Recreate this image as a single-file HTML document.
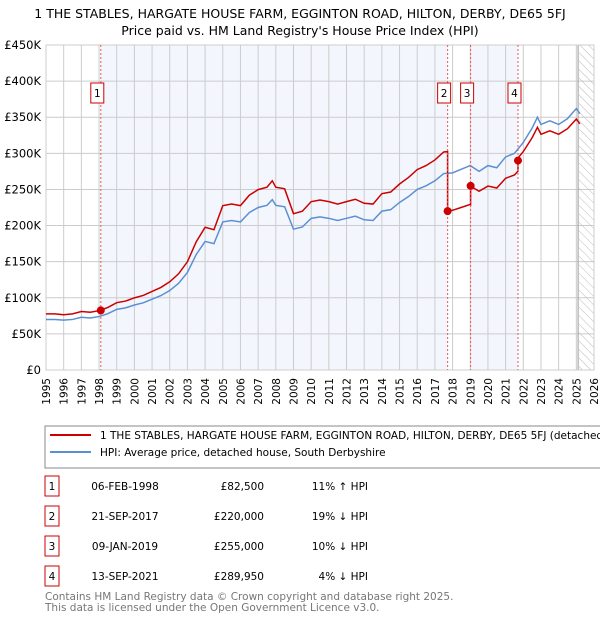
<!DOCTYPE html>
<html><head><meta charset="utf-8"><style>
body{margin:0;background:#fff;width:600px;height:620px;overflow:hidden;font-family:"DejaVu Sans","Liberation Sans",sans-serif}
svg text{font-family:"DejaVu Sans","Liberation Sans",sans-serif}
</style></head><body>
<svg id="c" width="600" height="620" xmlns="http://www.w3.org/2000/svg">
<text x="300" y="18" text-anchor="middle" font-size="12.5">1 THE STABLES, HARGATE HOUSE FARM, EGGINTON ROAD, HILTON, DERBY, DE65 5FJ</text>
<text x="300" y="35" text-anchor="middle" font-size="12.5">Price paid vs. HM Land Registry's House Price Index (HPI)</text>
<defs><pattern id="hatch" width="6" height="6" patternUnits="userSpaceOnUse" patternTransform="rotate(-45)"><line x1="0" y1="0" x2="0" y2="6" stroke="#bbb" stroke-width="1"/></pattern></defs>
<g id="plot"></g>
<rect x="45" y="426" width="560" height="42" fill="#fff" stroke="#888"/>
<line x1="50" y1="435" x2="91" y2="435" stroke="#cc0000" stroke-width="2"/>
<text x="100" y="439" font-size="10.5">1 THE STABLES, HARGATE HOUSE FARM, EGGINTON ROAD, HILTON, DERBY, DE65 5FJ (detached house)</text>
<line x1="50" y1="452" x2="91" y2="452" stroke="#5b8fd4" stroke-width="2"/>
<text x="100" y="456" font-size="10.5">HPI: Average price, detached house, South Derbyshire</text>
<g id="table" font-size="10.5"></g>
<text x="45" y="600" font-size="10.5" fill="#777">Contains HM Land Registry data © Crown copyright and database right 2025.</text>
<text x="45" y="611" font-size="10.5" fill="#777">This data is licensed under the Open Government Licence v3.0.</text>
</svg>
<script>
const hpiYears=[1995,1995.5,1996,1996.5,1997,1997.5,1998,1998.5,1999,1999.5,2000,2000.5,2001,2001.5,2002,2002.5,2003,2003.5,2004,2004.5,2005,2005.5,2006,2006.5,2007,2007.5,2007.8,2008,2008.5,2009,2009.5,2010,2010.5,2011,2011.5,2012,2012.5,2013,2013.5,2014,2014.5,2015,2015.5,2016,2016.5,2017,2017.5,2018,2018.5,2019,2019.5,2020,2020.5,2021,2021.5,2022,2022.5,2022.8,2023,2023.5,2024,2024.5,2025,2025.2];
const hpiValues=[70,70,69,70,73,72,74,78,84,86,90,93,98,103,110,120,135,160,178,175,205,207,205,218,225,228,236,228,226,195,198,210,212,210,207,210,213,208,207,220,222,232,240,250,255,262,272,273,278,283,275,283,280,295,300,315,335,350,340,345,340,348,362,355];
const saleLabels=["1","2","3","4"];
const saleDates=[1998.1,2017.72,2019.02,2021.7];
const salePrices=[82.5,220,255,289.95];
const saleRatios=[1.11,0.81,0.90,0.96];
const saleDateText=["06-FEB-1998","21-SEP-2017","09-JAN-2019","13-SEP-2021"];
const salePriceText=["£82,500","£220,000","£255,000","£289,950"];
const saleHpiText=["11% ↑ HPI","19% ↓ HPI","10% ↓ HPI","4% ↓ HPI"];
const yTicks=[0,50,100,150,200,250,300,350,400,450];
const yTickLabels=["£0","£50K","£100K","£150K","£200K","£250K","£300K","£350K","£400K","£450K"];
const X0=46,X1=594,Y0=370,Y1=45;
const xs=y=>X0+(y-1995)/(2026-1995)*(X1-X0);
const ys=v=>Y0-v/450*(Y0-Y1);
const NS="http://www.w3.org/2000/svg";
const plot=document.getElementById('plot');
function mk(tag,attrs,parent){const e=document.createElementNS(NS,tag);for(const k in attrs)e.setAttribute(k,attrs[k]);(parent||plot).appendChild(e);return e;}
let e;
e=mk('rect',{x:X0,y:Y1,width:X1-X0,height:Y0-Y1,fill:'#fff'});


// shaded bands
[[0,1],[2,3]].forEach(([a,b])=>{
 e=mk('rect',{x:xs(saleDates[a]),y:Y1,width:xs(saleDates[b])-xs(saleDates[a]),height:Y0-Y1,fill:'#eef3fc',opacity:0.7});
 
 
});
// grid
for(let yr=1995;yr<=2026;yr++){
 e=mk('line',{x1:xs(yr),x2:xs(yr),y1:Y1,y2:Y0,stroke:'#ccc','stroke-width':1});
 
 
 e=mk('text',{x:0,y:0,'font-size':10.5,'text-anchor':'end',transform:`translate(${xs(yr)+4},${Y0+8}) rotate(-90)`});
 e.textContent=yr;
 
 
}
yTicks.forEach((v,i)=>{
 e=mk('line',{x1:X0,x2:X1,y1:ys(v),y2:ys(v),stroke:'#ccc','stroke-width':1});
 
 
 e=mk('text',{x:X0-5,y:ys(v)+4,'font-size':11.5,'text-anchor':'end'});
 e.textContent=yTickLabels[i];
 
 
});
// hatch future
e=mk('rect',{x:xs(2025.15),y:Y1,width:X1-xs(2025.15),height:Y0-Y1,fill:'url(#hatch)'});


e=mk('line',{x1:xs(2025.1),x2:xs(2025.1),y1:Y1,y2:Y0,stroke:'#999','stroke-width':1});


e=mk('rect',{x:X0,y:Y1,width:X1-X0,height:Y0-Y1,fill:'none',stroke:'#ccc'});


// HPI line
function hpiAt(t){for(let i=0;i<hpiYears.length-1;i++){if(t<=hpiYears[i+1]){const f=(t-hpiYears[i])/(hpiYears[i+1]-hpiYears[i]);return hpiValues[i]+f*(hpiValues[i+1]-hpiValues[i]);}}return hpiValues[hpiValues.length-1];}
e=mk('polyline',{points:hpiYears.map((t,i)=>xs(t)+','+ys(hpiValues[i])).join(' '),fill:'none',stroke:'#5b8fd4','stroke-width':1.5});


// price line
function ratioAt(t){let r=saleRatios[0];for(let i=0;i<saleDates.length;i++)if(t>=saleDates[i])r=saleRatios[i];return r;}
let pts=[];
const times=hpiYears.slice();saleDates.forEach(d=>{times.push(d-0.001);times.push(d);});times.sort((a,b)=>a-b);
times.forEach(t=>{let v=hpiAt(t)*ratioAt(t);pts.push(xs(t)+','+ys(v));});
e=mk('polyline',{points:pts.join(' '),fill:'none',stroke:'#cc0000','stroke-width':1.5});


// sale markers
saleDates.forEach((d,i)=>{
 e=mk('line',{x1:xs(d),x2:xs(d),y1:Y1,y2:Y0,stroke:'#e55','stroke-width':1,'stroke-dasharray':'2,2'});
 
 
 e=mk('circle',{cx:xs(d),cy:ys(salePrices[i]),r:4,fill:'#cc0000'});
 
 
 e=mk('rect',{x:xs(d)-10,y:83,width:13,height:20,fill:'#fff',stroke:'#cc0000'});
 
 
 e=mk('text',{x:xs(d)-3.5,y:97,'font-size':10.5,'text-anchor':'middle'});
 e.textContent=saleLabels[i];
 
 
});
// table
const tb=document.getElementById('table');
saleLabels.forEach((l,i)=>{
 const y=476+i*30;
 e=mk('rect',{x:45,y:y,width:14,height:20,fill:'#fff',stroke:'#cc0000'},tb);
 
 
 e=mk('text',{x:52,y:y+14,'text-anchor':'middle'},tb);e.textContent=l;
 
 
 e=mk('text',{x:125,y:y+14,'text-anchor':'middle'},tb);e.textContent=saleDateText[i];
 
 
 e=mk('text',{x:264,y:y+14,'text-anchor':'end'},tb);e.textContent=salePriceText[i];
 
 
 e=mk('text',{x:368,y:y+14,'text-anchor':'end'},tb);e.textContent=saleHpiText[i];
 
 
});
</script>
</body></html>
